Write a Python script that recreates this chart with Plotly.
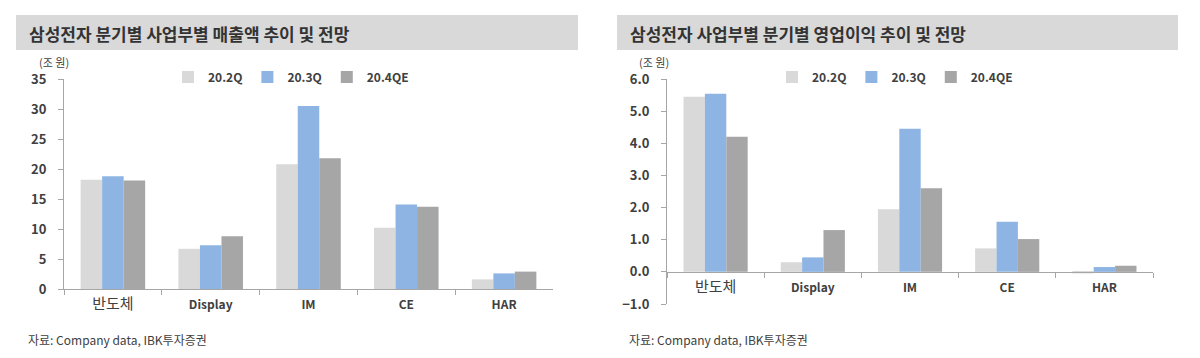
import plotly.graph_objects as go

W, H = 1200, 358

categories = ["반도체", "Display", "IM", "CE", "HAR"]
series_names = ["20.2Q", "20.3Q", "20.4QE"]
series_colors = ["#d9d9d9", "#8db4e2", "#a6a6a6"]

sales_2q = [18.2, 6.7, 20.8, 10.2, 1.6]
sales_3q = [18.8, 7.3, 30.5, 14.1, 2.6]
sales_4qe = [18.1, 8.8, 21.8, 13.7, 2.9]

op_2q = [5.45, 0.30, 1.95, 0.73, -0.05]
op_3q = [5.54, 0.45, 4.45, 1.56, 0.15]
op_4qe = [4.2, 1.3, 2.6, 1.02, 0.19]

sales_ticks = [0, 5, 10, 15, 20, 25, 30, 35]
op_ticks = [-1, 0, 1, 2, 3, 4, 5, 6]

title_left = "삼성전자 분기별 사업부별 매출액 추이 및 전망"
title_right = "삼성전자 사업부별 분기별 영업이익 추이 및 전망"
unit_label = "(조 원)"
source_text = "자료: Company data, IBK투자증권"

FONT = "Noto Sans CJK KR, Noto Sans, sans-serif"
TXT = "#404040"
AX = "#a6a6a6"


def px_x(x):
    return x / W


def px_y(y):
    return (H - y) / H


tick_text = []
for c in categories:
    if c == "반도체":
        tick_text.append("<span style='font-size:15px'>%s</span>" % c)
    else:
        tick_text.append("<b>%s</b>" % c)

fig = go.Figure()

for name, vals, col in zip(series_names, [sales_2q, sales_3q, sales_4qe], series_colors):
    fig.add_trace(go.Bar(x=categories, y=vals, name=name, marker_color=col,
                         marker_line_width=0, xaxis="x", yaxis="y", legend="legend"))
for name, vals, col in zip(series_names, [op_2q, op_3q, op_4qe], series_colors):
    fig.add_trace(go.Bar(x=categories, y=vals, name=name, marker_color=col,
                         marker_line_width=0, xaxis="x2", yaxis="y2", legend="legend2"))

# Left panel geometry (pixels)
L_x0, L_x1 = 64, 553
L_y0, L_y35 = 289, 79
# Right panel geometry
R_x0, R_x1 = 667, 1153
R_ym1, R_y6 = 304, 79
R_y0 = R_ym1 - (R_ym1 - R_y6) / 7.0

axis_common = dict(showgrid=False, zeroline=False, showline=True, linecolor=AX, linewidth=1,
                   ticks="outside", tickcolor=AX, fixedrange=True, automargin=False)

fig.update_layout(
    template="none",
    width=W, height=H, margin=dict(l=0, r=0, t=0, b=0, pad=0, autoexpand=False),
    paper_bgcolor="white", plot_bgcolor="white",
    font=dict(family=FONT, color=TXT),
    barmode="group", bargap=0.34, bargroupgap=0,
    xaxis=dict(domain=[px_x(L_x0), px_x(L_x1)], anchor="y", type="category",
               tickmode="array", tickvals=categories, ticktext=tick_text,
               tickson="boundaries", ticklen=5, ticklabelstandoff=5,
               tickfont=dict(size=12, color=TXT), **axis_common),
    yaxis=dict(domain=[px_y(L_y0), px_y(L_y35)], anchor="x", range=[0, 35],
               tickmode="array", tickvals=sales_ticks, ticklen=5,
               ticklabelstandoff=9,
               tickfont=dict(size=13, color=TXT, weight="bold"), **axis_common),
    xaxis2=dict(domain=[px_x(R_x0), px_x(R_x1)], anchor="free", position=px_y(R_y0),
                type="category", tickmode="array", tickvals=categories, ticktext=tick_text,
                tickson="boundaries", ticklen=5, ticklabelstandoff=5,
                tickfont=dict(size=12, color=TXT), **axis_common),
    yaxis2=dict(domain=[px_y(R_ym1), px_y(R_y6)], anchor="x2", range=[-1, 6],
                tickmode="array", tickvals=op_ticks, tickformat=".1f", ticklen=5,
                ticklabelstandoff=9,
                tickfont=dict(size=13, color=TXT, weight="bold"), **axis_common),
    legend=dict(orientation="h", x=px_x(168), y=px_y(77), xanchor="left", yanchor="middle",
                font=dict(size=12, color=TXT, weight="bold"), bgcolor="rgba(0,0,0,0)",
                traceorder="normal"),
    legend2=dict(orientation="h", x=px_x(772), y=px_y(77), xanchor="left", yanchor="middle",
                 font=dict(size=12, color=TXT, weight="bold"), bgcolor="rgba(0,0,0,0)",
                 traceorder="normal"),
    showlegend=True,
)

shapes = []
annotations = []
for (bx0, bx1, tx, title, ux, srcx) in [(16, 578, 27, title_left, 37, 26),
                                        (617, 1178, 628, title_right, 637, 627)]:
    shapes.append(dict(type="rect", xref="paper", yref="paper",
                       x0=px_x(bx0), x1=px_x(bx1), y0=px_y(50), y1=px_y(15),
                       fillcolor="#d9d9d9", line=dict(width=0), layer="below"))
    annotations.append(dict(text="<b>%s</b>" % title, xref="paper", yref="paper",
                            x=px_x(tx), y=px_y(33), xanchor="left", yanchor="middle",
                            showarrow=False, font=dict(size=17, color="#333333")))
    annotations.append(dict(text=unit_label, xref="paper", yref="paper",
                            x=px_x(ux), y=px_y(62), xanchor="left", yanchor="middle",
                            showarrow=False, font=dict(size=11, color=TXT)))
    annotations.append(dict(text=source_text, xref="paper", yref="paper",
                            x=px_x(srcx), y=px_y(339), xanchor="left", yanchor="middle",
                            showarrow=False, font=dict(size=12, color=TXT)))

fig.update_layout(shapes=shapes, annotations=annotations)

fig.write_html("out.html", config={"displayModeBar": False},
               post_script="document.body.style.margin='0';")
